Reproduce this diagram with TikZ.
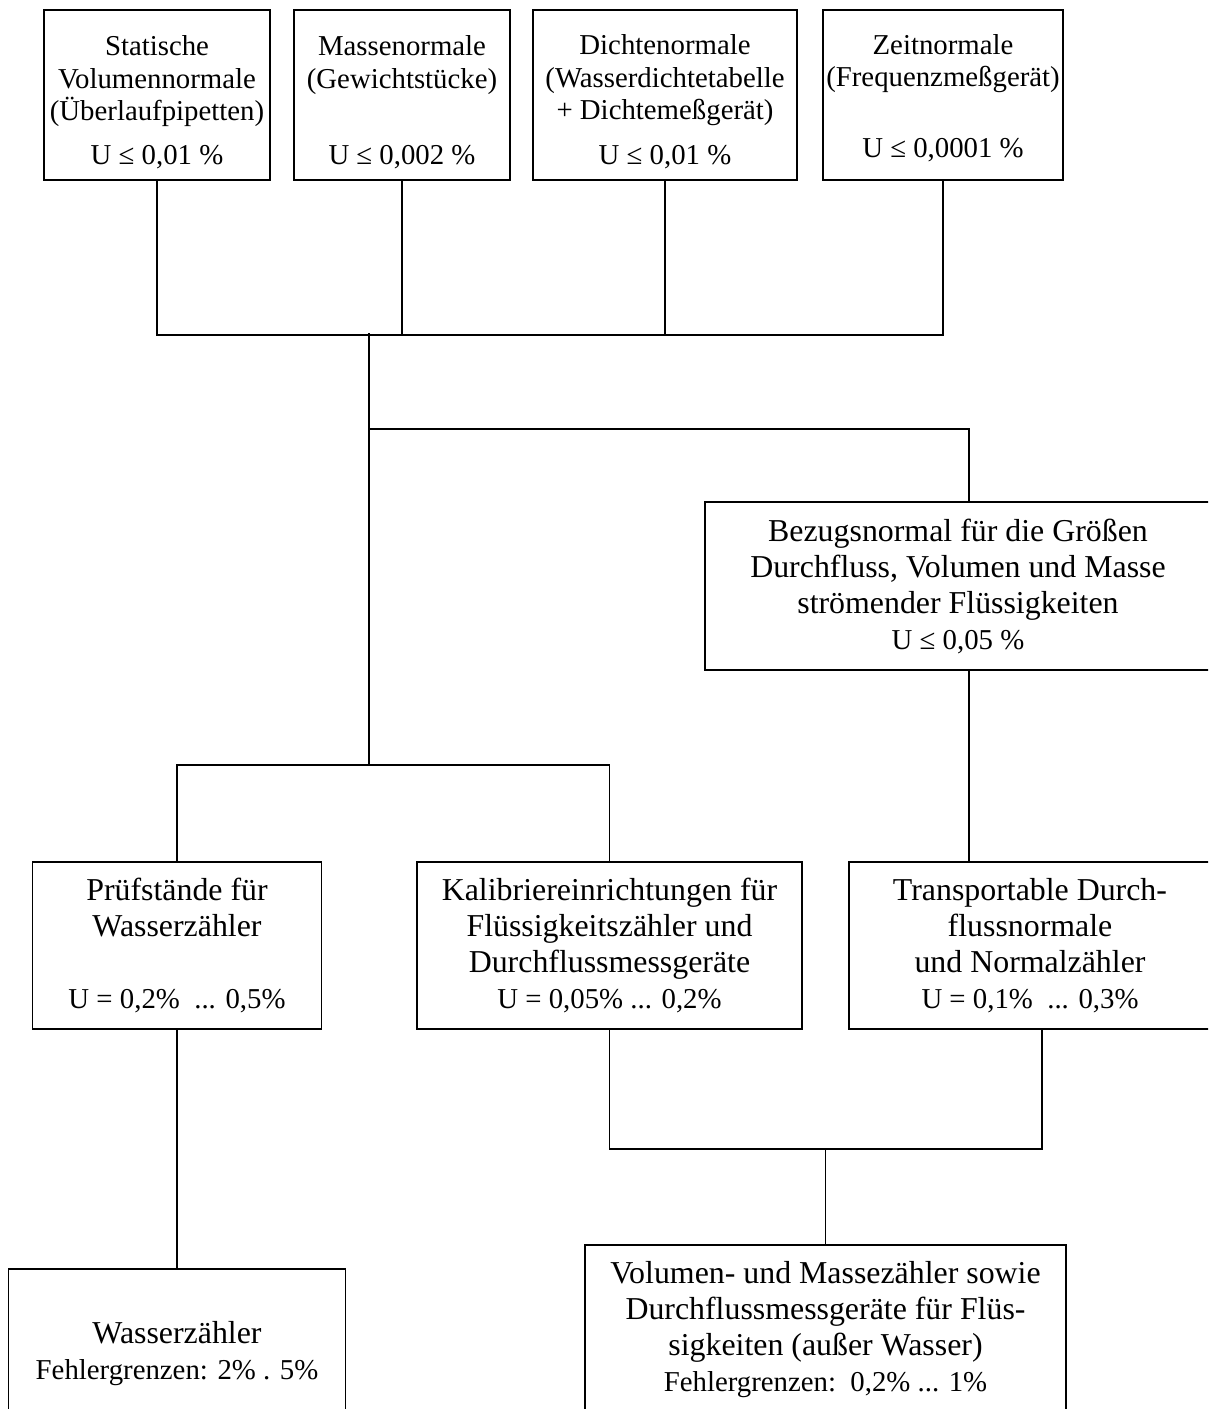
\documentclass[tikz,border=0pt]{standalone}
\usepackage{fontspec}
\setmainfont{Liberation Serif}
\newdimen\px \px=0.75pt
\newcommand\grossf{\fontsize{23.9}{27}\selectfont}
\newcommand\kleinf{\fontsize{21.6}{24.4}\selectfont}
\newcommand\hoch[1]{\rule{0pt}{#1}}
\tikzset{
  kasten/.style={draw, line width=1.3pt, inner sep=0pt, align=center},
  linie/.style={line width=1.3pt},
}
\begin{document}
\begin{tikzpicture}[x=1\px, y=-1\px]
\useasboundingbox (0,0) rectangle (1208,1409);
\clip (0,0) rectangle (1208,1409);

\node[kasten, font=\kleinf, minimum width=226\px, minimum height=170\px] (vol) at (157,95) {\hoch{26pt}Statische\\Volumennormale\\(Überlaufpipetten)\\[8.6pt]U ≤ 0,01 \%};
\node[kasten, font=\kleinf, minimum width=216\px, minimum height=170\px] (masse) at (402,95) {\hoch{26pt}Massenormale\\(Gewichtstücke)\\[32.6pt]U ≤ 0,002 \%};
\node[kasten, font=\kleinf, minimum width=264\px, minimum height=170\px] (dichte) at (665,95) {\hoch{25pt}Dichtenormale\\(Wasserdichtetabelle\\+ Dichtemeßgerät)\\[9pt]U ≤ 0,01 \%};
\node[kasten, font=\kleinf, minimum width=240\px, minimum height=170\px] (zeit) at (943,95) {\hoch{20pt}Zeitnormale\\(Frequenzmeßgerät)\\[29pt]U ≤ 0,0001 \%};

\node[kasten, font=\grossf, minimum width=506\px, minimum height=168\px] (bezug) at (958,586) {Bezugsnormal für die Größen\\Durchfluss, Volumen und Masse\\strömender Flüssigkeiten\\{\kleinf U ≤ 0,05 \%}};

\node[kasten, font=\grossf, minimum width=289\px, minimum height=167\px] (pruef) at (177,945.5) {Prüfstände für\\Wasserzähler\\[27pt]{\kleinf U = 0,2\%\ \ ... 0,5\%}};
\node[kasten, font=\grossf, minimum width=385\px, minimum height=167\px] (kalib) at (609.5,945.5) {Kalibriereinrichtungen für\\Flüssigkeitszähler und\\Durchflussmessgeräte\\{\kleinf U = 0,05\% ... 0,2\%}};
\node[kasten, font=\grossf, minimum width=362\px, minimum height=167\px] (trans) at (1030,945.5) {Transportable Durch-\\flussnormale\\und Normalzähler\\{\kleinf U = 0,1\%\ \ ... 0,3\%}};

\node[kasten, font=\grossf, minimum width=337\px, minimum height=169\px] (wasser) at (177,1353.5) {Wasserzähler\\{\kleinf Fehlergrenzen: 2\% . 5\%}};
\node[kasten, font=\grossf, minimum width=481\px, minimum height=169\px] (volmass) at (825.5,1329.5) {Volumen- und Massezähler sowie\\Durchflussmessgeräte für Flüs-\\sigkeiten (außer Wasser)\\{\kleinf Fehlergrenzen:\ \ 0,2\% ... 1\%}};

\coordinate (bus) at (369,335);
\coordinate (stamm) at (369,333);
\coordinate (abzw) at (369,429);
\coordinate (rechts) at (969,429);
\coordinate (gabel) at (369,765);
\coordinate (sammel) at (825.5,1149);

\draw[linie] (vol.south) |- (bus) -| (zeit.south);
\draw[linie] (masse.south) -- (masse.south |- bus);
\draw[linie] (dichte.south) -- (dichte.south |- bus);
\draw[linie] (stamm) -- (gabel);
\draw[linie] (abzw) -- (rechts) -- (rechts |- bezug.north);
\draw[linie] (rechts |- bezug.south) -- (rechts |- trans.north);
\draw[linie] (pruef.north) |- (gabel) -| (kalib.north);
\draw[linie] (pruef.south) -- (wasser.north);
\draw[linie] (kalib.south) |- (sammel) -| ([xshift=12\px]trans.south);
\draw[linie] (sammel) -- (volmass.north);
\end{tikzpicture}
\end{document}
